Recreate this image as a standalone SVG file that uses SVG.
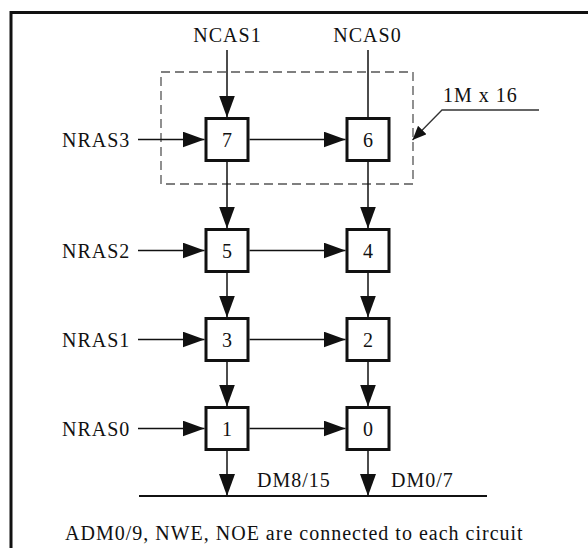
<svg xmlns="http://www.w3.org/2000/svg" width="588" height="548" viewBox="0 0 588 548">
<style>
.t{font-family:'Liberation Serif','Times New Roman',Times,serif;font-size:20px;fill:#111;letter-spacing:1px}
.box{fill:#fff;stroke:#111;stroke-width:3}
.c{text-anchor:middle}
.ln{stroke:#111;stroke-width:1.5;fill:none}
</style>
<defs>
<marker id="ah" markerUnits="userSpaceOnUse" markerWidth="22" markerHeight="16" refX="22" refY="8" orient="auto">
<path d="M0,0 L22,8 L0,16 z" fill="#111"/>
</marker>
<marker id="ahs" markerUnits="userSpaceOnUse" markerWidth="14" markerHeight="12" refX="14" refY="6" orient="auto">
<path d="M0,0 L14,6 L0,12 z" fill="#111"/>
</marker>
</defs>
<rect width="588" height="548" fill="#fff"/>
<path d="M11,548 V12.5 H588" fill="none" stroke="#111" stroke-width="3"/>
<rect x="161" y="72" width="252" height="112" fill="none" stroke="#555" stroke-width="1.3" stroke-dasharray="9 5"/>
<g id="connectors">
<line class="ln" x1="227" y1="50" x2="227" y2="117.5" marker-end="url(#ah)"/>
<line class="ln" x1="368" y1="50" x2="368" y2="118"/>
<line class="ln" x1="138" y1="139.5" x2="204.5" y2="139.5" marker-end="url(#ah)"/>
<line class="ln" x1="249.5" y1="139.5" x2="345.5" y2="139.5" marker-end="url(#ah)"/>
<line class="ln" x1="227" y1="161.5" x2="227" y2="228.5" marker-end="url(#ah)"/>
<line class="ln" x1="368" y1="161.5" x2="368" y2="228.5" marker-end="url(#ah)"/>
<line class="ln" x1="138" y1="250.5" x2="204.5" y2="250.5" marker-end="url(#ah)"/>
<line class="ln" x1="249.5" y1="250.5" x2="345.5" y2="250.5" marker-end="url(#ah)"/>
<line class="ln" x1="227" y1="272.5" x2="227" y2="317.5" marker-end="url(#ah)"/>
<line class="ln" x1="368" y1="272.5" x2="368" y2="317.5" marker-end="url(#ah)"/>
<line class="ln" x1="138" y1="339.5" x2="204.5" y2="339.5" marker-end="url(#ah)"/>
<line class="ln" x1="249.5" y1="339.5" x2="345.5" y2="339.5" marker-end="url(#ah)"/>
<line class="ln" x1="227" y1="361.5" x2="227" y2="406.5" marker-end="url(#ah)"/>
<line class="ln" x1="368" y1="361.5" x2="368" y2="406.5" marker-end="url(#ah)"/>
<line class="ln" x1="138" y1="428.5" x2="204.5" y2="428.5" marker-end="url(#ah)"/>
<line class="ln" x1="249.5" y1="428.5" x2="345.5" y2="428.5" marker-end="url(#ah)"/>
<line class="ln" x1="227" y1="450.5" x2="227" y2="496" marker-end="url(#ah)"/>
<line class="ln" x1="368" y1="450.5" x2="368" y2="496" marker-end="url(#ah)"/>
<line x1="139" y1="496" x2="487" y2="496" stroke="#111" stroke-width="2"/>
<polyline points="539,110 442,110 412.5,140" fill="none" stroke="#333" stroke-width="1.3" marker-end="url(#ahs)"/>
</g>
<g font-family="'Liberation Serif', 'Times New Roman', serif" font-size="20">
<g id="node7"><rect class="box" x="206" y="118.5" width="42" height="42"/><text class="t c" x="227.5" y="146.5">7</text></g>
<g id="node6"><rect class="box" x="347" y="118.5" width="42" height="42"/><text class="t c" x="368.5" y="146.5">6</text></g>
<g id="node5"><rect class="box" x="206" y="229.5" width="42" height="42"/><text class="t c" x="227.5" y="257.5">5</text></g>
<g id="node4"><rect class="box" x="347" y="229.5" width="42" height="42"/><text class="t c" x="368.5" y="257.5">4</text></g>
<g id="node3"><rect class="box" x="206" y="318.5" width="42" height="42"/><text class="t c" x="227.5" y="346.5">3</text></g>
<g id="node2"><rect class="box" x="347" y="318.5" width="42" height="42"/><text class="t c" x="368.5" y="346.5">2</text></g>
<g id="node1"><rect class="box" x="206" y="407.5" width="42" height="42"/><text class="t c" x="227.5" y="435.5">1</text></g>
<g id="node0"><rect class="box" x="347" y="407.5" width="42" height="42"/><text class="t c" x="368.5" y="435.5">0</text></g>
<g id="labels">
<text class="t c" x="227.5" y="42">NCAS1</text>
<text class="t c" x="367.5" y="42">NCAS0</text>
<text class="t" x="62" y="146.5">NRAS3</text>
<text class="t" x="62" y="257.5">NRAS2</text>
<text class="t" x="62" y="346.5">NRAS1</text>
<text class="t" x="62" y="435.5">NRAS0</text>
<text class="t" x="443" y="101.5">1M x 16</text>
<text class="t" x="257" y="487">DM8/15</text>
<text class="t" x="391" y="487">DM0/7</text>
<text class="t" x="65" y="539.5">ADM0/9, NWE, NOE are connected to each circuit</text>
</g>
</g>
</svg>
